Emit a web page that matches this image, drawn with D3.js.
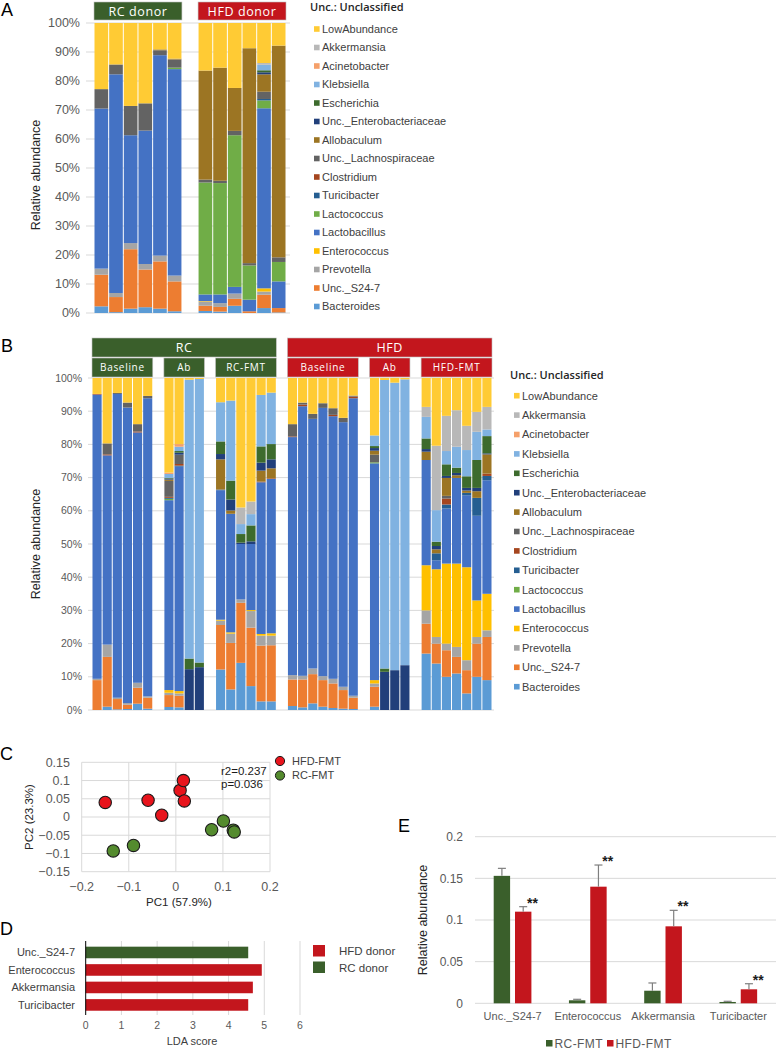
<!DOCTYPE html>
<html><head><meta charset="utf-8">
<script src="https://cdn.jsdelivr.net/npm/d3@7"></script>
<style>body{margin:0;background:#fff} svg{display:block}</style>
</head><body><svg id="fig" width="776" height="1050"></svg>
<script>
// ---------------- DATA ----------------
// stacking order, bottom -> top
const genera = ["Bacteroides","Unc._S24-7","Prevotella","Enterococcus","Lactobacillus","Lactococcus","Turicibacter","Clostridium","Unc._Lachnospiraceae","Allobaculum","Unc._Enterobacteriaceae","Escherichia","Klebsiella","Acinetobacter","Akkermansia","LowAbundance"];
const generaColors = ["#5B9BD5","#ED7D31","#A5A5A5","#FFC000","#4472C4","#70AD47","#255E91","#A5461F","#636363","#9C7523","#213F7A","#3D6B2D","#80B2E1","#F5A06A","#B8B8B8","#FFCB34"];
const percentTicks = [0,10,20,30,40,50,60,70,80,90,100];

// Panel A: donors (values in %, one row per sample, in stacking order)
const groupsA = ["RC donor","HFD donor"];
const groupSizesA = [6,6];
const samplesA = [
  [2.3,10.9,2.1,0,55.2,0,0,0,6.7,0,0,0,0,0,0,22.8],
  [0.3,5.2,1.4,0,75.4,0,0,0,3.4,0,0,0,0,0,0,14.3],
  [1.5,20.5,2.1,0,37.2,0,0,0,10.1,0,0,0,0,0,0,28.6],
  [2.0,13.0,1.9,0,46.0,0,0,0,9.4,0,0,0,0,0,0,27.7],
  [1.5,16.3,2.0,0,69.1,0,0,0,1.7,0.3,0,0,0,0,0,9.1],
  [0.6,10.3,2.0,0,71.2,0.5,0,0,2.8,0.3,0,0,0,0,0,12.3],
  [0.7,1.8,1.4,0.2,2.3,38.6,0,0,1.0,37.6,0,0,0,0,0,16.4],
  [0.5,1.6,1.3,0,3.0,38.4,0,0,0.8,39.0,0,0,0,0,0,15.4],
  [2.5,2.4,1.8,0,2.3,52.3,0,0,1.5,14.8,0,0,0,0,0,22.4],
  [0,0.6,0,0,4.0,11.8,0,0,0.8,74.1,0,0,0,0,0,8.7],
  [1.7,4.6,1.1,1.1,62.1,2.7,0.5,0,2.5,6.0,0.7,0.7,1.9,0,0.6,13.8],
  [0.2,1.5,0,0,9.2,6.7,0,0,1.6,73.0,0,0,0,0,0,7.8]
];

// Panel B: recipients
const topGroupsB = ["RC","HFD"];
const groupsB = ["Baseline","Ab","RC-FMT","Baseline","Ab","HFD-FMT"];
const groupSizesB = [6,4,6,7,4,7];
const samplesB = [
  // RC Baseline
  [0,9.0,0.4,0,85.6,0,0,0.2,0,0,0,0,0,0,0,4.8],
  [1.0,15.0,3.7,0,57.0,0,0,0.3,3.3,0,0,0,0,0,0,19.7],
  [0.2,3.1,0.4,0,91.5,0,0,0,0.3,0,0,0,0,0,0,4.5],
  [0.3,1.3,0.5,0,89.0,0,0,0,1.5,0,0,0,0,0,0,7.4],
  [1.9,4.8,1.5,0,75.4,0,0,0.3,2.2,0,0,0,0,0,0,13.9],
  [0.4,3.3,0.4,0,89.8,0,0,0,0.7,0,0,0,0,0,0,5.4],
  // RC Ab
  [0.9,3.6,0.7,0.8,57.2,0.4,0.3,0.3,4.8,0.4,0.3,0.2,1.2,0.4,0,28.5],
  [0.8,3.5,0.7,0.7,67.6,0,0.3,0.5,2.8,0,0.6,0.5,1.3,0.8,0,19.9],
  [0,0,0,0,0,0,0,0,0,0,12.3,3.2,84.0,0,0,0.5],
  [0,0,0,0,0,0,0,0,0,0,12.9,1.4,85.4,0,0,0.3],
  // RC-FMT
  [12.2,13.4,1.3,0.3,39.0,0,0.2,0,0,9.1,1.6,3.8,11.8,0,0,7.3],
  [6.2,14.0,2.8,0.4,35.7,0,0,0,0,1.0,3.3,5.7,24.1,0,0,6.8],
  [14.2,18.1,1.0,0,16.7,0,0,0,0,0,0.4,2.6,3.0,0,5.0,39.0],
  [7.2,17.6,5.0,0.3,19.9,0,0,0,0,0,0.8,4.8,3.4,0,3.8,37.2],
  [2.6,16.8,3.0,0.5,45.7,0,0,0.2,0,3.3,2.4,4.9,15.5,0,0,5.1],
  [2.6,16.9,2.9,0.7,46.5,0,0,0.2,0,3.0,2.7,4.6,15.5,0,0,4.4],
  // HFD Baseline
  [1.2,8.0,1.3,0,71.7,0,0,0.2,3.7,0,0,0,0,0,0,13.9],
  [0.8,8.4,1.1,0,81.2,0,0,0.5,0.6,0,0,0,0,0,0,7.4],
  [2.0,8.8,1.7,0,75.2,0,0,0,1.5,0,0,0,0,0,0,10.8],
  [1.0,8.0,1.2,0,80.8,0,0,0,1.4,0,0,0,0,0,0,7.6],
  [0.6,7.4,1.4,0,79.1,0,0,0.4,2.0,0,0,0,0,0,0,9.1],
  [0.4,5.6,1.0,0,79.7,0,0,0,1.3,0,0,0,0,0,0,12.0],
  [0.3,3.4,0.6,0,89.6,0,0,0.5,0.3,0,0,0,0,0,0,5.3],
  // HFD Ab
  [1.0,6.0,1.0,1.0,65.3,0.3,0,0,2.3,1.2,0.8,0.6,3.2,0,0,17.3],
  [0,0,0,0,0,0,0,0,0,0,11.5,1.0,86.9,0,0,0.6],
  [0,0,0,0,0,0,0,0,0,0,12.0,0,86.6,0,0,1.4],
  [0,0,0,0,0,0,0,0,0,0,13.5,0,86.1,0,0,0.4],
  // HFD-FMT
  [17.0,9.0,4.0,13.6,31.7,0,0,0,0,2.5,0.8,3.2,6.5,0,3.0,8.7],
  [14.0,6.0,2.0,20.4,2.7,0,2.1,0,0,1.2,1.0,1.3,9.5,0,19.4,20.4],
  [10.0,8.0,2.0,24.1,16.6,0,1.2,1.8,0.8,5.4,0.6,3.5,4.0,0,10.6,11.4],
  [11.0,5.0,3.0,25.1,25.8,0,0,0,0,0.8,0.7,1.6,6.3,0,11.0,9.7],
  [5.0,7.0,3.0,28.0,21.7,0,0.7,0,0,0.7,0.8,3.5,7.9,0,7.3,14.4],
  [10.0,10.0,2.0,11.0,25.5,0,5.4,0,0,2.0,1.0,8.4,8.5,0,6.0,10.2],
  [9.0,13.0,2.0,11.0,34.2,0,1.3,0.7,0,5.8,0.3,5.2,2.0,0,6.8,8.7]
];

// Panel C: PCoA
const pcHFD_x = [-0.150,-0.059,-0.030,0.009,0.016,0.018];
const pcHFD_y = [0.040,0.046,0.005,0.073,0.100,0.044];
const pcRC_x = [0.101,0.076,0.122,0.124,-0.090,-0.133];
const pcRC_y = [-0.011,-0.035,-0.036,-0.041,-0.078,-0.093];
const pcTicksX = [-0.2,-0.1,0,0.1,0.2];
const pcTicksY = [-0.15,-0.1,-0.05,0,0.05,0.1,0.15];

// Panel D: LDA
const ldaTaxa = ["Unc._S24-7","Enterococcus","Akkermansia","Turicibacter"];
const ldaScore = [4.55,4.93,4.68,4.55];
const ldaGroup = ["RC donor","HFD donor","HFD donor","HFD donor"];
const ldaTicks = [0,1,2,3,4,5,6];

// Panel E: relative abundance
const eTaxa = ["Unc._S24-7","Enterococcus","Akkermansia","Turicibacter"];
const eRC = [0.153,0.0036,0.0151,0.0016];
const eRCerr = [0.009,0.0012,0.0093,0.0008];
const eHFD = [0.110,0.140,0.0924,0.0168];
const eHFDerr = [0.006,0.026,0.0192,0.0067];
const eSig = ["**","**","**","**"];
const eTicks = [0,0.05,0.1,0.15,0.2];

// ---------------- DRAW ----------------
const GREEN = "#3A5F2B", RED = "#C3161D";
const F = '"Liberation Sans", Arial, sans-serif';
const HF = '"Open Sans", "Liberation Sans", sans-serif';
const svg = d3.select("#fig").style("font-family", F);

function label(t, x, y) {
  svg.append("text").attr("x", x).attr("y", y).attr("font-size", 18).attr("fill", "#000").text(t);
}
function stackIt(rows) {
  const objs = rows.map(r => Object.fromEntries(genera.map((g, i) => [g, r[i]])));
  return d3.stack().keys(genera)(objs);
}
function slotPositions(sizes, gap) {
  const pos = []; let u = 0;
  sizes.forEach((n, g) => { for (let j = 0; j < n; j++) { pos.push({u: u, g: g}); u += 1; } u += gap; });
  return {pos, total: u - gap};
}

function stackedPanel(o) {
  const {pos, total} = slotPositions(o.sizes, o.gap);
  const x = d3.scaleLinear().domain([0, total]).range([o.x0, o.x1]);
  const y = d3.scaleLinear().domain([0, 100]).range([o.yb, o.yt]);
  const bw = x(1) - x(0);
  const g = svg.append("g");
  g.selectAll(".grid").data(percentTicks).join("line")
    .attr("x1", o.gx0).attr("x2", o.gx1)
    .attr("y1", d => y(d)).attr("y2", d => y(d))
    .attr("stroke", "#d9d9d9").attr("stroke-width", 1);
  g.selectAll(".tl").data(percentTicks).join("text")
    .attr("x", o.tx).attr("y", d => y(d)).attr("dy", "0.35em")
    .attr("text-anchor", "end").attr("font-size", o.tfs).attr("fill", "#595959")
    .text(d => d + "%");
  const series = stackIt(o.rows);
  series.forEach((s, si) => {
    g.append("g").selectAll("rect").data(s).join("rect")
      .attr("x", (d, i) => x(pos[i].u) + 0.5)
      .attr("width", bw - 1)
      .attr("y", d => y(d[1]))
      .attr("height", d => Math.max(0, y(d[0]) - y(d[1])))
      .attr("fill", generaColors[si]);
  });
  svg.append("text").attr("transform", `translate(${o.titleX},${o.titleY}) rotate(-90)`)
    .attr("text-anchor", "middle").attr("font-size", 12.5).attr("fill", "#262626").text("Relative abundance");
  return {x, y, pos, bw};
}

function header(x0, x1, y0, h, txt, col, fs, ls) {
  svg.append("rect").attr("x", x0).attr("y", y0).attr("width", x1 - x0).attr("height", h)
    .attr("fill", col).attr("stroke", "#bfbfbf").attr("stroke-width", 0.6);
  svg.append("text").attr("x", (x0 + x1) / 2).attr("y", y0 + h / 2).attr("dy", "0.36em")
    .attr("text-anchor", "middle").attr("font-family", HF).attr("font-size", fs)
    .attr("letter-spacing", ls).attr("fill", "#fff").text(txt);
}

function legend(x, yTitle, y0, step) {
  svg.append("text").attr("x", x - 4).attr("y", yTitle).attr("font-family", HF).attr("font-weight", 600)
    .attr("font-size", 11).attr("fill", "#262626").text("Unc.: Unclassified");
  const items = genera.map((g, i) => ({g, c: generaColors[i]})).reverse();
  const lg = svg.append("g");
  lg.selectAll("rect").data(items).join("rect")
    .attr("x", x).attr("y", (d, i) => y0 + i * step - 2.8).attr("width", 5.6).attr("height", 5.6)
    .attr("fill", d => d.c);
  lg.selectAll("text").data(items).join("text")
    .attr("x", x + 8).attr("y", (d, i) => y0 + i * step).attr("dy", "0.36em")
    .attr("font-size", 11).attr("fill", "#404040").text(d => d.g);
}

// ----- Panel A -----
label("A", 1, 16);
const A = stackedPanel({rows: samplesA, sizes: groupSizesA, gap: 1.1, x0: 94, x1: 286, yb: 313, yt: 23,
  gx0: 86, gx1: 290, tx: 80, tfs: 12.5, titleX: 40, titleY: 175});
{
  let k = 0;
  groupsA.forEach((gname, gi) => {
    const first = A.pos[k], last = A.pos[k + groupSizesA[gi] - 1];
    header(A.x(first.u), A.x(last.u + 1), 2, 18, gname, gi === 0 ? GREEN : RED, 12.5, 0.6);
    k += groupSizesA[gi];
  });
}
legend(314, 11, 29, 18.5);

// ----- Panel B -----
label("B", 1, 352);
const B = stackedPanel({rows: samplesB, sizes: groupSizesB, gap: 1.1, x0: 92, x1: 492, yb: 710, yt: 378,
  gx0: 88, gx1: 494, tx: 82, tfs: 10.5, titleX: 40, titleY: 544});
{
  let k = 0; const ext = [];
  groupsB.forEach((gname, gi) => {
    const first = B.pos[k], last = B.pos[k + groupSizesB[gi] - 1];
    const x0 = B.x(first.u), x1 = B.x(last.u + 1);
    ext.push([x0, x1]);
    header(x0, x1, 358, 19, gname, gi < 3 ? GREEN : RED, 10, 0.7);
    k += groupSizesB[gi];
  });
  header(ext[0][0], ext[2][1], 338, 19, topGroupsB[0], GREEN, 12.5, 0.6);
  header(ext[3][0], ext[5][1], 338, 19, topGroupsB[1], RED, 12.5, 0.6);
}
legend(514, 379, 395.7, 19.4);

// ----- Panel C -----
label("C", 0, 760);
{
  const x = d3.scaleLinear().domain([-0.2, 0.2]).range([81.7, 270]);
  const y = d3.scaleLinear().domain([-0.15, 0.15]).range([871.7, 762.3]);
  const g = svg.append("g");
  g.selectAll(".vx").data(pcTicksX).join("line")
    .attr("x1", d => x(d)).attr("x2", d => x(d)).attr("y1", y(-0.15)).attr("y2", y(0.15))
    .attr("stroke", "#d9d9d9");
  g.selectAll(".hy").data(pcTicksY).join("line")
    .attr("y1", d => y(d)).attr("y2", d => y(d)).attr("x1", x(-0.2)).attr("x2", x(0.2))
    .attr("stroke", "#d9d9d9");
  g.selectAll(".tx").data(pcTicksX).join("text")
    .attr("x", d => x(d)).attr("y", 891).attr("text-anchor", "middle")
    .attr("font-size", 12.5).attr("fill", "#595959").text(d => d3.format("")(d));
  g.selectAll(".ty").data(pcTicksY).join("text")
    .attr("x", 70).attr("y", d => y(d)).attr("dy", "0.35em").attr("text-anchor", "end")
    .attr("font-size", 12.5).attr("fill", "#595959").text(d => d3.format("")(+d.toFixed(2)));
  svg.append("text").attr("x", 179).attr("y", 906).attr("text-anchor", "middle")
    .attr("font-size", 11.5).attr("fill", "#262626").text("PC1 (57.9%)");
  svg.append("text").attr("transform", "translate(33,817) rotate(-90)").attr("text-anchor", "middle")
    .attr("font-size", 11.5).attr("fill", "#262626").text("PC2 (23.3%)");
  const hfd = pcHFD_x.map((v, i) => [v, pcHFD_y[i]]);
  const rc = pcRC_x.map((v, i) => [v, pcRC_y[i]]);
  g.selectAll(".ph").data(hfd).join("circle").attr("cx", d => x(d[0])).attr("cy", d => y(d[1])).attr("r", 6.2)
    .attr("fill", "#E8141C").attr("stroke", "#1a1a1a").attr("stroke-width", 1.1);
  g.selectAll(".pr").data(rc).join("circle").attr("cx", d => x(d[0])).attr("cy", d => y(d[1])).attr("r", 6.2)
    .attr("fill", "#548B2E").attr("stroke", "#1a1a1a").attr("stroke-width", 1.1);
  svg.append("text").attr("x", 221).attr("y", 775).attr("font-size", 11.5).attr("fill", "#1a1a1a").text("r2=0.237");
  svg.append("text").attr("x", 221).attr("y", 788).attr("font-size", 11.5).attr("fill", "#1a1a1a").text("p=0.036");
  const leg = [["HFD-FMT", "#E8141C"], ["RC-FMT", "#548B2E"]];
  leg.forEach((d, i) => {
    svg.append("circle").attr("cx", 280).attr("cy", 761 + i * 14.5).attr("r", 4.6)
      .attr("fill", d[1]).attr("stroke", "#1a1a1a").attr("stroke-width", 1);
    svg.append("text").attr("x", 292).attr("y", 761 + i * 14.5).attr("dy", "0.35em")
      .attr("font-size", 11).attr("fill", "#404040").text(d[0]);
  });
}

// ----- Panel D -----
label("D", 0, 935);
{
  const x = d3.scaleLinear().domain([0, 6]).range([85.7, 300]);
  const y = d3.scaleBand().domain(ldaTaxa).range([943.7, 1013.7]).paddingInner(0.337).paddingOuter(0.17);
  const g = svg.append("g");
  g.selectAll(".gl").data(ldaTicks.slice(1)).join("line")
    .attr("x1", d => x(d)).attr("x2", d => x(d)).attr("y1", 941).attr("y2", 1015)
    .attr("stroke", "#d9d9d9");
  g.selectAll("rect").data(ldaTaxa).join("rect")
    .attr("x", x(0)).attr("y", d => y(d)).attr("height", y.bandwidth())
    .attr("width", (d, i) => x(ldaScore[i]) - x(0))
    .attr("fill", (d, i) => ldaGroup[i] === "RC donor" ? GREEN : RED);
  g.append("line").attr("x1", x(0)).attr("x2", x(0)).attr("y1", 941).attr("y2", 1015).attr("stroke", "#000").attr("stroke-width", 1);
  g.selectAll(".cl").data(ldaTaxa).join("text")
    .attr("x", 75).attr("y", d => y(d) + y.bandwidth() / 2).attr("dy", "0.35em").attr("text-anchor", "end")
    .attr("font-size", 11).attr("fill", "#404040").text(d => d);
  g.selectAll(".tk").data(ldaTicks).join("text")
    .attr("x", d => x(d)).attr("y", 1029).attr("text-anchor", "middle")
    .attr("font-size", 10.5).attr("fill", "#595959").text(d => d);
  svg.append("text").attr("x", 192).attr("y", 1045).attr("text-anchor", "middle")
    .attr("font-size", 11).attr("fill", "#404040").text("LDA score");
  [["HFD donor", RED], ["RC donor", GREEN]].forEach((d, i) => {
    svg.append("rect").attr("x", 313).attr("y", 945 + i * 16.5).attr("width", 12).attr("height", 11.5).attr("fill", d[1]);
    svg.append("text").attr("x", 339).attr("y", 951 + i * 16.5).attr("dy", "0.35em")
      .attr("font-size", 11.5).attr("fill", "#404040").text(d[0]);
  });
}

// ----- Panel E -----
label("E", 398, 832);
{
  const x = d3.scaleBand().domain(eTaxa).range([475, 776]);
  const y = d3.scaleLinear().domain([0, 0.2]).range([1003.3, 836.7]);
  const sub = d3.scaleBand().domain(["RC", "HFD"]).range([18.7, 56.4]).paddingInner(0.23);
  const g = svg.append("g");
  g.selectAll(".gl").data(eTicks).join("line")
    .attr("x1", 475).attr("x2", 776).attr("y1", d => y(d)).attr("y2", d => y(d))
    .attr("stroke", "#d9d9d9");
  g.selectAll(".tk").data(eTicks).join("text")
    .attr("x", 463).attr("y", d => y(d)).attr("dy", "0.35em").attr("text-anchor", "end")
    .attr("font-size", 12).attr("fill", "#595959").text(d => d3.format("")(d));
  svg.append("text").attr("transform", "translate(427,920) rotate(-90)").attr("text-anchor", "middle")
    .attr("font-size", 12.5).attr("fill", "#262626").text("Relative abundance");
  const sets = [["RC", eRC, eRCerr, GREEN], ["HFD", eHFD, eHFDerr, RED]];
  sets.forEach(([k, vals, errs, col]) => {
    g.append("g").selectAll("rect").data(eTaxa).join("rect")
      .attr("x", d => x(d) + sub(k)).attr("width", sub.bandwidth())
      .attr("y", (d, i) => y(vals[i])).attr("height", (d, i) => y(0) - y(vals[i]))
      .attr("fill", col);
    const eg = g.append("g").attr("stroke", "#7f7f7f").attr("stroke-width", 1.2);
    eTaxa.forEach((d, i) => {
      const cx = x(d) + sub(k) + sub.bandwidth() / 2;
      eg.append("line").attr("x1", cx).attr("x2", cx).attr("y1", y(vals[i])).attr("y2", y(vals[i] + errs[i]));
      eg.append("line").attr("x1", cx - 4).attr("x2", cx + 4).attr("y1", y(vals[i] + errs[i])).attr("y2", y(vals[i] + errs[i]));
    });
  });
  g.selectAll(".sig").data(eTaxa).join("text")
    .attr("x", d => x(d) + sub("HFD") + sub.bandwidth() + 1)
    .attr("y", (d, i) => y(eHFD[i] + eHFDerr[i]) + 1)
    .attr("text-anchor", "middle").attr("font-size", 14).attr("font-weight", "bold").attr("fill", "#1a1a1a")
    .text((d, i) => eSig[i]);
  g.selectAll(".cl").data(eTaxa).join("text")
    .attr("x", d => x(d) + x.bandwidth() / 2).attr("y", 1020).attr("text-anchor", "middle")
    .attr("font-size", 11).attr("fill", "#595959").text(d => d);
  [["RC-FMT", GREEN, 546], ["HFD-FMT", RED, 607]].forEach(d => {
    svg.append("rect").attr("x", d[2]).attr("y", 1040).attr("width", 6.5).attr("height", 6.5).attr("fill", d[1]);
    svg.append("text").attr("x", d[2] + 8.5).attr("y", 1043.3).attr("dy", "0.36em")
      .attr("font-size", 12).attr("letter-spacing", 0.4).attr("fill", "#595959").text(d[0]);
  });
}
</script></body></html>
